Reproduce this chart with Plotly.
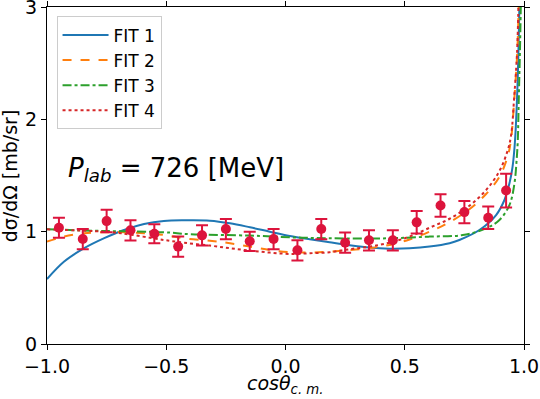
import plotly.graph_objects as go

# experimental points
cos_exp = [-0.95, -0.85, -0.75, -0.65, -0.55, -0.45, -0.35, -0.25, -0.15, -0.05,
           0.05, 0.15, 0.25, 0.35, 0.45, 0.55, 0.65, 0.75, 0.85, 0.925]
xs_exp = [1.035, 0.934, 1.094, 1.012, 0.982, 0.867, 0.967, 1.023, 0.914, 0.934,
          0.834, 1.023, 0.902, 0.923, 0.923, 1.083, 1.233, 1.174, 1.124, 1.366]
err_exp = [0.09, 0.09, 0.10, 0.09, 0.085, 0.09, 0.09, 0.09, 0.085, 0.09,
           0.09, 0.09, 0.09, 0.09, 0.09, 0.10, 0.10, 0.10, 0.10, 0.15]

# fit curves
fit1_x = [-1.0, -0.928, -0.844, -0.76, -0.677, -0.593, -0.51, -0.426, -0.317, -0.233, -0.149, -0.066,
          0.018, 0.102, 0.185, 0.269, 0.353, 0.436, 0.52, 0.604, 0.688, 0.729, 0.813, 0.883, 0.918,
          0.939, 0.952, 0.962, 0.973, 0.981]
fit1_y = [0.578, 0.734, 0.853, 0.942, 1.015, 1.068, 1.095, 1.101, 1.098, 1.075, 1.039, 1.0,
          0.962, 0.932, 0.905, 0.879, 0.858, 0.849, 0.852, 0.867, 0.897, 0.926, 1.015, 1.148, 1.282,
          1.43, 1.577, 1.8, 2.318, 3.05]

fit2_x = [-1.0, -0.928, -0.844, -0.76, -0.677, -0.593, -0.51, -0.426, -0.317, -0.233, -0.149, -0.066,
          0.018, 0.102, 0.185, 0.269, 0.353, 0.436, 0.52, 0.604, 0.688, 0.771, 0.841, 0.897, 0.931,
          0.945, 0.959, 0.972, 0.978]
fit2_y = [0.911, 0.956, 0.986, 0.995, 0.995, 0.986, 0.971, 0.941, 0.92, 0.897, 0.867, 0.837,
          0.817, 0.814, 0.822, 0.837, 0.853, 0.882, 0.93, 1.0, 1.085, 1.2, 1.335, 1.488, 1.666,
          1.81, 2.17, 2.61, 3.05]

fit3_x = [-1.0, -0.76, -0.51, -0.4, -0.149, 0.018, 0.185, 0.436, 0.604, 0.743, 0.841, 0.897,
          0.939, 0.96, 0.969, 0.974, 0.978, 0.983, 0.987]
fit3_y = [1.021, 1.006, 0.995, 0.977, 0.965, 0.95, 0.941, 0.941, 0.956, 0.97, 1.03, 1.104,
          1.237, 1.43, 1.637, 1.814, 2.17, 2.61, 3.05]

fit4_x = [-1.0, -0.76, -0.69, -0.51, -0.426, -0.317, -0.233, -0.149, -0.066, 0.018, 0.102, 0.185,
          0.269, 0.353, 0.436, 0.52, 0.604, 0.688, 0.771, 0.841, 0.897, 0.931, 0.946, 0.959, 0.971, 0.977]
fit4_y = [1.021, 1.0, 0.986, 0.926, 0.902, 0.876, 0.853, 0.831, 0.814, 0.802, 0.808, 0.817,
          0.844, 0.867, 0.902, 0.956, 1.035, 1.115, 1.23, 1.37, 1.54, 1.72, 1.86, 2.2, 2.6, 3.05]

fits = [
    ("FIT 1", fit1_x, fit1_y, "#1f77b4", "solid"),
    ("FIT 2", fit2_x, fit2_y, "#ff7f0e", "dash"),
    ("FIT 3", fit3_x, fit3_y, "#2ca02c", "dashdot"),
    ("FIT 4", fit4_x, fit4_y, "#d62728", "dot"),
]

fig = go.Figure()
for name, x, y, col, dash in fits:
    fig.add_trace(go.Scatter(x=x, y=y, mode="lines", name=name, line_shape="spline",
                             line=dict(color=col, width=2, dash=dash)))

fig.add_trace(go.Scatter(x=cos_exp, y=xs_exp, mode="markers", showlegend=False,
                         marker=dict(color="crimson", size=10),
                         error_y=dict(type="data", array=err_exp, color="crimson",
                                      thickness=2, width=6)))

fig.add_annotation(x=-0.46, y=1.55, xref="x", yref="y", showarrow=False,
                   text="<i>P</i><sub><i>lab</i></sub> = 726 [MeV]",
                   font=dict(size=26, color="black"))

# axis titles
fig.add_annotation(x=0.5, y=-0.164, xref="paper", yref="paper", showarrow=False,
                   xanchor="center", yanchor="bottom",
                   text="<i>cos\u03b8</i><sub><i>c. m.</i></sub>", font=dict(size=19))
fig.add_annotation(x=-0.078, y=0.5, xref="paper", yref="paper", showarrow=False,
                   xanchor="center", yanchor="middle", textangle=-90,
                   text="d\u03c3/d\u03a9 [mb/sr]", font=dict(size=19))

axis_common = dict(showline=True, linecolor="black", linewidth=1, mirror="ticks",
                   ticks="outside", ticklen=5, tickcolor="black", showgrid=False,
                   zeroline=False, automargin=False, ticklabeloverflow="allow",
                   tickfont=dict(size=19, color="black"))

fig.update_layout(
    width=540, height=399,
    margin=dict(l=47, r=16, t=7, b=55),
    plot_bgcolor="white", paper_bgcolor="white",
    font=dict(family="DejaVu Sans", color="black"),
    xaxis=dict(range=[-1, 1], tickvals=[-1, -0.5, 0, 0.5, 1],
               ticktext=["\u22121.0", "\u22120.5", "0.0", "0.5", "1.0"],
               **axis_common),
    yaxis=dict(range=[0, 3], tickvals=[0, 1, 2, 3], **axis_common),
    legend=dict(x=0.02, y=0.972, xanchor="left", yanchor="top", itemwidth=46,
                bgcolor="rgba(255,255,255,0.8)", bordercolor="#cccccc", borderwidth=1,
                font=dict(size=17)),
)

fig.write_html("out.html", config={"displayModeBar": False},
               post_script="document.body.style.margin='0';")
